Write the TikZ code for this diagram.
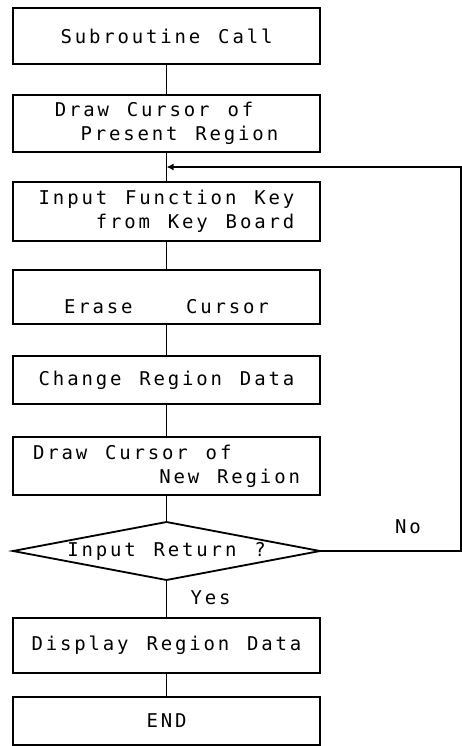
\documentclass[tikz,border=0pt]{standalone}
\usepackage{fontspec}
\usetikzlibrary{positioning,shapes.geometric,arrows.meta,calc}
\newfontfamily\plotfont{DejaVu Sans Mono}[LetterSpace=15,WordSpace=1.25]

\begin{document}
\begin{tikzpicture}[
node distance=7.5mm,
every node/.style={font=\plotfont\fontsize{13.5}{17}\selectfont},
box/.style={draw, line width=1.3pt, minimum width=76.75mm, inner sep=0pt, outer sep=0pt},
decision/.style={draw, diamond, line width=1.3pt, minimum width=76.75mm, minimum height=14.5mm, inner sep=0pt, outer sep=0pt},
line width=1.3pt,
>={Latex[length=1.8mm,width=1.8mm]}
]
\useasboundingbox (0,0) rectangle (115.5mm,-186.5mm);

%-------------------------
% Nodes
%-------------------------

\node (call) [box, minimum height=14mm] at (41.625mm,-9mm) {Subroutine Call};

\node (present) [box, minimum height=14.25mm, below=7.75mm of call, align=left]
{Draw Cursor of\\\phantom{Dr}Present Region};

\node (keyin) [box, minimum height=14.75mm, below=7.5mm of present, align=right]
{Input Function Key\\from Key Board};

\node (erase) [box, minimum height=13.5mm, below=7.25mm of keyin]
{\raisebox{-2.5mm}[\height][\depth]{Erase\ \ \ Cursor}};

\node (change) [box, minimum height=12mm, below=8mm of erase] {Change Region Data};

\node (newdraw) [box, minimum height=14.5mm, below=8.25mm of change, align=left]
{Draw Cursor of\\\phantom{Draw Curs}New Region};

\node (ret) [decision, below=6.75mm of newdraw] {\makebox[0pt]{Input Return ?}};

\node (show) [box, minimum height=13.75mm, below=9.5mm of ret] {Display Region Data};

\node (end) [box, minimum height=12mm, below=6mm of show] {END\hspace{7mm}};

\node (yes) at ($(ret.south)+(11mm,-4.5mm)$) {Yes};
\node (no)  at ($(ret.east)+(22mm,6mm)$) {No};

\coordinate (join) at ($(present.south)!0.5!(keyin.north)$);

%-------------------------
% Lines
%-------------------------

\draw (call) -- (present);
\draw (present) -- (keyin);
\draw (keyin) -- (erase);
\draw (erase) -- (change);
\draw (change) -- (newdraw);
\draw (newdraw) -- (ret);
\draw (ret) -- (show);
\draw (show) -- (end);

\draw[->] (ret.east) -- ++(35.25mm,0) |- (join);

\end{tikzpicture}
\end{document}
